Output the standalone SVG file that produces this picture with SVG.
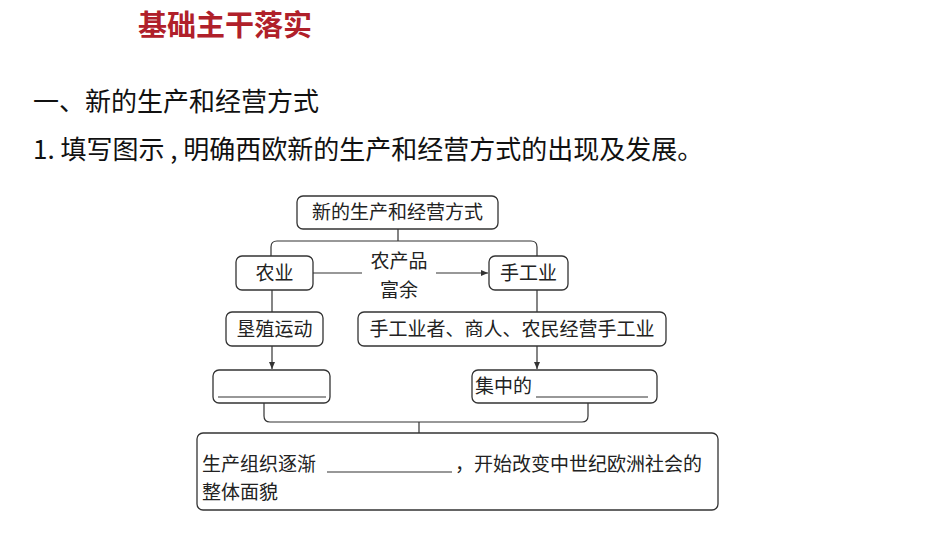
<svg xmlns="http://www.w3.org/2000/svg" width="950" height="535" viewBox="0 0 950 535">
<defs>
<style>
.b{fill:#fff;stroke:#333;stroke-width:1.3}
.l{fill:none;stroke:#333;stroke-width:1.2}
.t{font-family:"Noto Sans CJK SC","Noto Sans",sans-serif;font-size:19px;fill:#222}
.h{font-family:"Noto Sans CJK SC","Noto Sans",sans-serif;fill:#111}
</style>
<marker id="a" markerWidth="8" markerHeight="8" refX="7" refY="4" orient="auto" markerUnits="userSpaceOnUse"><path d="M0,1 L7,4 L0,7 z" fill="#333"/></marker>
</defs>
<rect width="950" height="535" fill="#fff"/>
<text x="138" y="36" class="h" font-size="29" font-weight="bold" style="fill:#b0202a">基础主干落实</text>
<text x="33" y="111" class="h" font-size="26">一、新的生产和经营方式</text>
<text x="33" y="159" class="h" font-size="26">1. 填写图示 , 明确西欧新的生产和经营方式的出现及发展。</text>
<g id="connectors">
<path class="l" d="M398,229 V241 M271,256 V247 Q271,241 277,241 H531 Q537,241 537,247 V256"/>
<path class="l" d="M313,273 H362"/>
<path class="l" d="M436,273 H488" marker-end="url(#a)"/>
<path class="l" d="M272,290 V312"/>
<path class="l" d="M537,290 V312"/>
<path class="l" d="M272,346 V369" marker-end="url(#a)"/>
<path class="l" d="M537,346 V369" marker-end="url(#a)"/>
<path class="l" d="M264,403 V416 Q264,422 270,422 H582 Q588,422 588,416 V403 M419,422 V433"/>
</g>
<g id="n1"><rect class="b" x="297" y="196" width="201" height="33" rx="6"/><text class="t" x="397.5" y="219" text-anchor="middle">新的生产和经营方式</text></g>
<g id="n2"><rect class="b" x="236" y="256" width="77" height="34" rx="6"/><text class="t" x="274.5" y="280" text-anchor="middle">农业</text></g>
<g id="lbl"><text class="t" x="399" y="268" text-anchor="middle">农产品</text><text class="t" x="399" y="297" text-anchor="middle">富余</text></g>
<g id="n3"><rect class="b" x="489" y="256" width="79" height="34" rx="6"/><text class="t" x="528.5" y="280" text-anchor="middle">手工业</text></g>
<g id="n4"><rect class="b" x="226" y="312" width="97" height="34" rx="6"/><text class="t" x="274.5" y="336" text-anchor="middle">垦殖运动</text></g>
<g id="n5"><rect class="b" x="358" y="312" width="308" height="34" rx="6"/><text class="t" x="512" y="336" text-anchor="middle">手工业者、商人、农民经营手工业</text></g>
<g id="n6"><rect class="b" x="213" y="370" width="117" height="33" rx="6"/><path class="l" d="M218,397 H326"/></g>
<g id="n7"><rect class="b" x="472" y="370" width="185" height="33" rx="6"/><text class="t" x="475" y="393">集中的</text><path class="l" d="M536,397 H648"/></g>
<g id="n8"><rect class="b" x="197" y="433" width="521" height="77" rx="6"/><text class="t" x="202" y="471">生产组织逐渐</text><path class="l" d="M327,472 H452"/><text class="t" x="455" y="471">，开始改变中世纪欧洲社会的</text><text class="t" x="202" y="499">整体面貌</text></g>
</svg>
